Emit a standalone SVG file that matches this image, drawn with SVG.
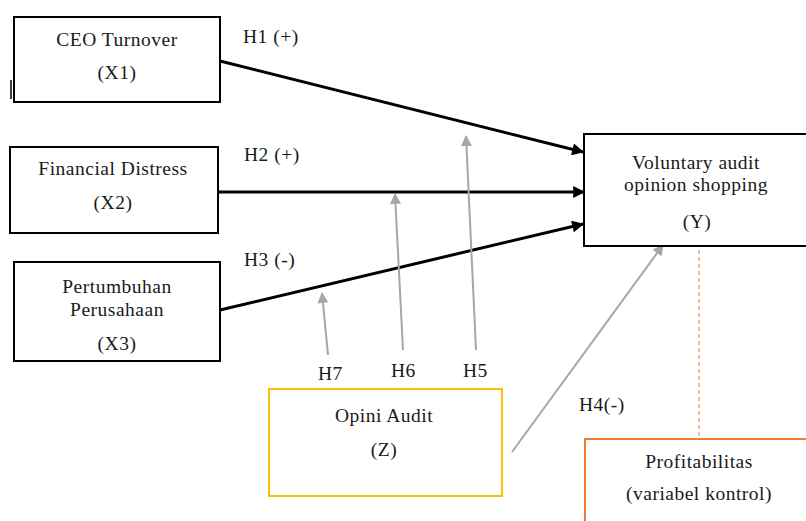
<svg xmlns="http://www.w3.org/2000/svg" width="806" height="521" viewBox="0 0 806 521">
<defs>
<style>
text{font-family:"Liberation Serif","Times New Roman",serif;font-size:19.5px;fill:#1a1a1a;text-anchor:middle;letter-spacing:0.5px}
.lbl{text-anchor:start}
.box{fill:#fff;stroke:#000;stroke-width:2}
.blk{stroke:#000;stroke-width:3;fill:none}
.gry{stroke:#a6a6a6;stroke-width:2;fill:none}
</style>
<marker id="ab" viewBox="0 0 10 10" refX="9" refY="5" markerWidth="5" markerHeight="4" markerUnits="strokeWidth" orient="auto"><path d="M0,0L10,5L0,10z" fill="#000"/></marker>
<marker id="ag" viewBox="0 0 10 10" refX="9" refY="5" markerWidth="6" markerHeight="5.5" markerUnits="strokeWidth" orient="auto"><path d="M0,0L10,5L0,10z" fill="#a6a6a6"/></marker>
</defs>
<rect width="806" height="521" fill="#fff"/>
<line x1="11" y1="80" x2="11" y2="99" stroke="#000" stroke-width="1.5"/>
<g id="connectors">
<line class="blk" x1="220" y1="61" x2="583" y2="152" marker-end="url(#ab)"/>
<line class="blk" x1="218" y1="192" x2="584" y2="192" marker-end="url(#ab)"/>
<line class="blk" x1="220" y1="310" x2="583" y2="224" marker-end="url(#ab)"/>
<line class="gry" x1="328" y1="355" x2="322" y2="293" marker-end="url(#ag)"/>
<line class="gry" x1="403" y1="350" x2="395" y2="194" marker-end="url(#ag)"/>
<line class="gry" x1="476" y1="350" x2="466" y2="136" marker-end="url(#ag)"/>
<line class="gry" x1="512" y1="452" x2="663" y2="245" marker-end="url(#ag)"/>
<line x1="699" y1="250" x2="699" y2="438" stroke="#ED7D31" stroke-width="1" stroke-dasharray="4,3"/>
</g>
<g id="labels">
<text class="lbl" x="243" y="43">H1 (+)</text>
<text class="lbl" x="244" y="161">H2 (+)</text>
<text class="lbl" x="244" y="266">H3 (-)</text>
<text class="lbl" x="318" y="380">H7</text>
<text class="lbl" x="391" y="377">H6</text>
<text class="lbl" x="463" y="377">H5</text>
<text class="lbl" x="579" y="411">H4(-)</text>
</g>
<g id="x1"><rect class="box" x="14" y="17" width="206" height="85"/><text x="117" y="46">CEO Turnover</text><text x="117" y="79">(X1)</text></g>
<g id="x2"><rect class="box" x="10" y="147" width="208" height="86"/><text x="113" y="175">Financial Distress</text><text x="113" y="209">(X2)</text></g>
<g id="x3"><rect class="box" x="14" y="262" width="206" height="99"/><text x="117" y="293">Pertumbuhan</text><text x="117" y="316">Perusahaan</text><text x="117" y="350">(X3)</text></g>
<g id="y"><rect class="box" x="584" y="134" width="230" height="112"/><text x="696" y="169">Voluntary audit</text><text x="696" y="191">opinion shopping</text><text x="697" y="228">(Y)</text></g>
<g id="z"><rect x="269" y="389" width="233" height="107" fill="#fff" stroke="#FFC000" stroke-width="2"/><text x="384" y="422">Opini Audit</text><text x="384" y="456">(Z)</text></g>
<g id="ctrl"><rect x="585" y="439" width="230" height="90" fill="#fff" stroke="#ED7D31" stroke-width="2"/><text x="699" y="468">Profitabilitas</text><text x="699" y="500">(variabel kontrol)</text></g>
</svg>
